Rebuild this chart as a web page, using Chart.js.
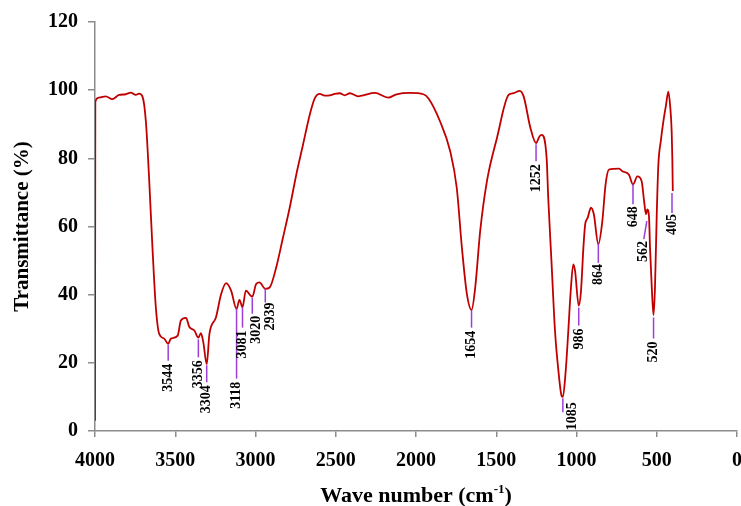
<!DOCTYPE html>
<html>
<head>
<meta charset="utf-8">
<script src="https://cdn.jsdelivr.net/npm/chart.js@4.4.1/dist/chart.umd.min.js"></script>
<style>
  html, body { margin: 0; padding: 0; background: #fff; overflow: hidden; }
  canvas { display: block; }
</style>
</head>
<body>
<canvas id="irChart" width="742" height="506"></canvas>
<script>
// FTIR spectrum, values
const waveNumbers = [
  4000, 3998, 3975, 3933, 3892, 3850, 3808, 3777, 3746, 3725, 3704, 3683, 3662, 3642, 3621, 3600,
  3569, 3544, 3527, 3485, 3465, 3433, 3412, 3381, 3356, 3340, 3325, 3304, 3287, 3246, 3214, 3183,
  3152, 3118, 3100, 3081, 3060, 3020, 2996, 2975, 2939, 2912, 2871, 2829, 2787, 2746, 2704, 2662,
  2631, 2600, 2569, 2537, 2506, 2475, 2444, 2412, 2360, 2329, 2256, 2173, 2121, 2037, 1954, 1923,
  1850, 1787, 1746, 1714, 1683, 1654, 1631, 1600, 1558, 1496, 1423, 1392, 1354, 1329, 1287, 1252,
  1230, 1217, 1186, 1176, 1155, 1134, 1113, 1092, 1085, 1067, 1051, 1036, 1020, 1009, 986, 972,
  957, 946, 930, 910, 892, 864, 839, 819, 798, 735, 714, 673, 648, 621, 594, 579,
  567, 559, 548, 542, 531, 520, 511, 500, 490, 475, 459, 442, 428, 417, 407, 403, 400
];
const transmittance = [
  3, 96.6, 97.8, 98.2, 97.4, 98.6, 98.8, 99.3, 98.6, 99.0, 98.1, 90.8, 73.3, 53.8, 36.3, 28.5,
  27.1, 25.6, 27.1, 28.0, 32.4, 33.2, 30.5, 29.5, 27.4, 28.7, 26.0, 19.6, 28.5, 33.4, 40.2, 43.4,
  41.2, 35.8, 38.5, 36.3, 41.2, 39.4, 43.1, 43.6, 41.7, 42.1, 48.0, 56.7, 65.5, 75.2, 84.0, 92.8,
  97.6, 98.9, 98.4, 98.5, 98.9, 99.1, 98.5, 99.1, 98.2, 98.5, 99.2, 97.8, 98.8, 99.2, 98.8, 97.6,
  90.8, 82.1, 71.3, 53.8, 40.2, 35.5, 42.1, 58.7, 73.3, 85.9, 98.6, 99.1, 99.8, 98.1, 88.9, 84.5,
  86.5, 86.9, 80.0, 68.3, 48.9, 29.4, 17.8, 10.2, 10.0, 17.8, 29.4, 41.1, 48.9, 47.0, 36.8, 41.1,
  53.8, 60.6, 62.6, 65.5, 63.6, 54.8, 61.6, 72.3, 76.7, 77.0, 76.2, 75.2, 72.3, 74.7, 73.3, 67.5,
  63.6, 65.0, 62.6, 53.8, 42.1, 34.0, 42.1, 63.6, 78.2, 85.0, 90.8, 95.7, 99.6, 95.7, 87.9, 80.1, 70.4
];

// labelled bands
const peakLabels = ['3544', '3356', '3304', '3118', '3081', '3020', '2939', '1654',
                    '1252', '1085', '986', '864', '648', '562', '520', '405'];
const peakWaves = [3544, 3356, 3304, 3118, 3081, 3020, 2939, 1654, 1252, 1085, 986, 864, 648, 562, 520, 405];
// transmittance where each marker line starts
const peakTops = [25.3, 26.9, 19.3, 35.9, 36.2, 39.1, 41.8, 35.3, 84.1, 9.6, 36.2, 54.9, 72.4, 61.6, 33.3, 69.8];

const xTicks = [0, 500, 1000, 1500, 2000, 2500, 3000, 3500, 4000];
const yTicks = [0, 20, 40, 60, 80, 100, 120];

// marker drawing layout (pixels)
const markerLayout = {
  len:   [16, 18, 17, 70, 20, 16, 14, 17, 17, 14, 18, 19, 20, 18, 21, 20],
  slant: [0, 0, 0, 0, 0, 0, 0, 0, 0, 0, 0, 0, 0, -3, 0, 0],
  dx:    [0, 0, 0, 0, 0, 4, 5, 0, 0, 10, 1, 0, 0, 0, 0, 0],
  dy:    [0, 0, 0, 0, 0, -1, -3, 0, 0, -13, 0, -2, -1, -1, 0, -2]
};

const fontFamily = '"Liberation Serif", "Times New Roman", serif';
const axisGrey = '#8c8c8c';

// purple marker lines + rotated band labels
const peakMarkers = {
  id: 'peakMarkers',
  afterDatasetsDraw(chart) {
    const { ctx, scales: { x, y } } = chart;
    ctx.save();
    ctx.font = 'bold 14px ' + fontFamily;
    ctx.textAlign = 'right';
    ctx.textBaseline = 'middle';
    peakLabels.forEach((lbl, i) => {
      const px = x.getPixelForValue(peakWaves[i]);
      const top = y.getPixelForValue(peakTops[i]);
      const bottom = top + markerLayout.len[i];
      const bx = px + markerLayout.slant[i];
      ctx.strokeStyle = '#9b3fd6';
      ctx.lineWidth = 1.5;
      ctx.beginPath();
      ctx.moveTo(px, top);
      ctx.lineTo(bx, bottom);
      ctx.stroke();
      ctx.save();
      ctx.translate(bx + markerLayout.dx[i], bottom + 3 + markerLayout.dy[i]);
      ctx.rotate(-Math.PI / 2);
      ctx.fillStyle = '#000';
      ctx.fillText(lbl, 0, 0);
      ctx.restore();
    });
    ctx.restore();
  }
};

// x axis title with a real superscript
const xTitle = {
  id: 'xTitle',
  afterDraw(chart) {
    const { ctx, chartArea } = chart;
    const cx = (chartArea.left + chartArea.right) / 2;
    const base = chart.height - 4;
    const main = 'Wave number (cm', sup = '-1', end = ')';
    ctx.save();
    ctx.fillStyle = '#000';
    ctx.textAlign = 'left';
    ctx.textBaseline = 'alphabetic';
    ctx.font = 'bold 22px ' + fontFamily;
    const w1 = ctx.measureText(main).width;
    const w3 = ctx.measureText(end).width;
    ctx.font = 'bold 13px ' + fontFamily;
    const w2 = ctx.measureText(sup).width;
    let x0 = cx - (w1 + w2 + w3) / 2;
    ctx.font = 'bold 22px ' + fontFamily;
    ctx.fillText(main, x0, base);
    ctx.font = 'bold 13px ' + fontFamily;
    ctx.fillText(sup, x0 + w1, base - 9);
    ctx.font = 'bold 22px ' + fontFamily;
    ctx.fillText(end, x0 + w1 + w2, base);
    ctx.restore();
  }
};

const ctx = document.getElementById('irChart').getContext('2d');

new Chart(ctx, {
  type: 'line',
  data: {
    datasets: [{
      label: 'Transmittance',
      data: waveNumbers.map((w, i) => ({ x: w, y: transmittance[i] })),
      borderColor: '#c00000',
      borderWidth: 1.8,
      pointRadius: 0,
      fill: false,
      cubicInterpolationMode: 'monotone'
    }]
  },
  options: {
    responsive: false,
    animation: false,
    devicePixelRatio: 1,
    layout: { padding: { top: 20, left: 0, right: 0, bottom: 0 } },
    plugins: {
      legend: { display: false },
      tooltip: { enabled: false }
    },
    scales: {
      x: {
        type: 'linear',
        min: 0,
        max: 4000,
        reverse: true,
        afterBuildTicks: s => { s.ticks = xTicks.map(v => ({ value: v })); },
        afterFit: s => { s.height = 75; s.paddingRight = 5; },
        ticks: {
          color: '#000',
          padding: 12,
          font: { family: fontFamily, size: 20, weight: 'bold' },
          callback: v => String(v)
        },
        grid: { drawOnChartArea: false, drawTicks: true, tickLength: 6, color: axisGrey, lineWidth: 1.5 },
        border: { color: axisGrey, width: 1.5 }
      },
      y: {
        min: 0,
        max: 120,
        afterBuildTicks: s => { s.ticks = yTicks.map(v => ({ value: v })); },
        afterFit: s => { s.width = 95; },
        ticks: {
          color: '#000',
          padding: 10,
          font: { family: fontFamily, size: 20, weight: 'bold' },
          callback: v => String(v)
        },
        grid: { drawOnChartArea: false, drawTicks: true, tickLength: 7, color: axisGrey, lineWidth: 1.5 },
        border: { color: axisGrey, width: 1.5 },
        title: {
          display: true,
          text: 'Transmittance (%)',
          color: '#000',
          padding: { top: 10, bottom: 0 },
          font: { family: fontFamily, size: 21, weight: 'bold' }
        }
      }
    }
  },
  plugins: [peakMarkers, xTitle]
});
</script>
</body>
</html>
